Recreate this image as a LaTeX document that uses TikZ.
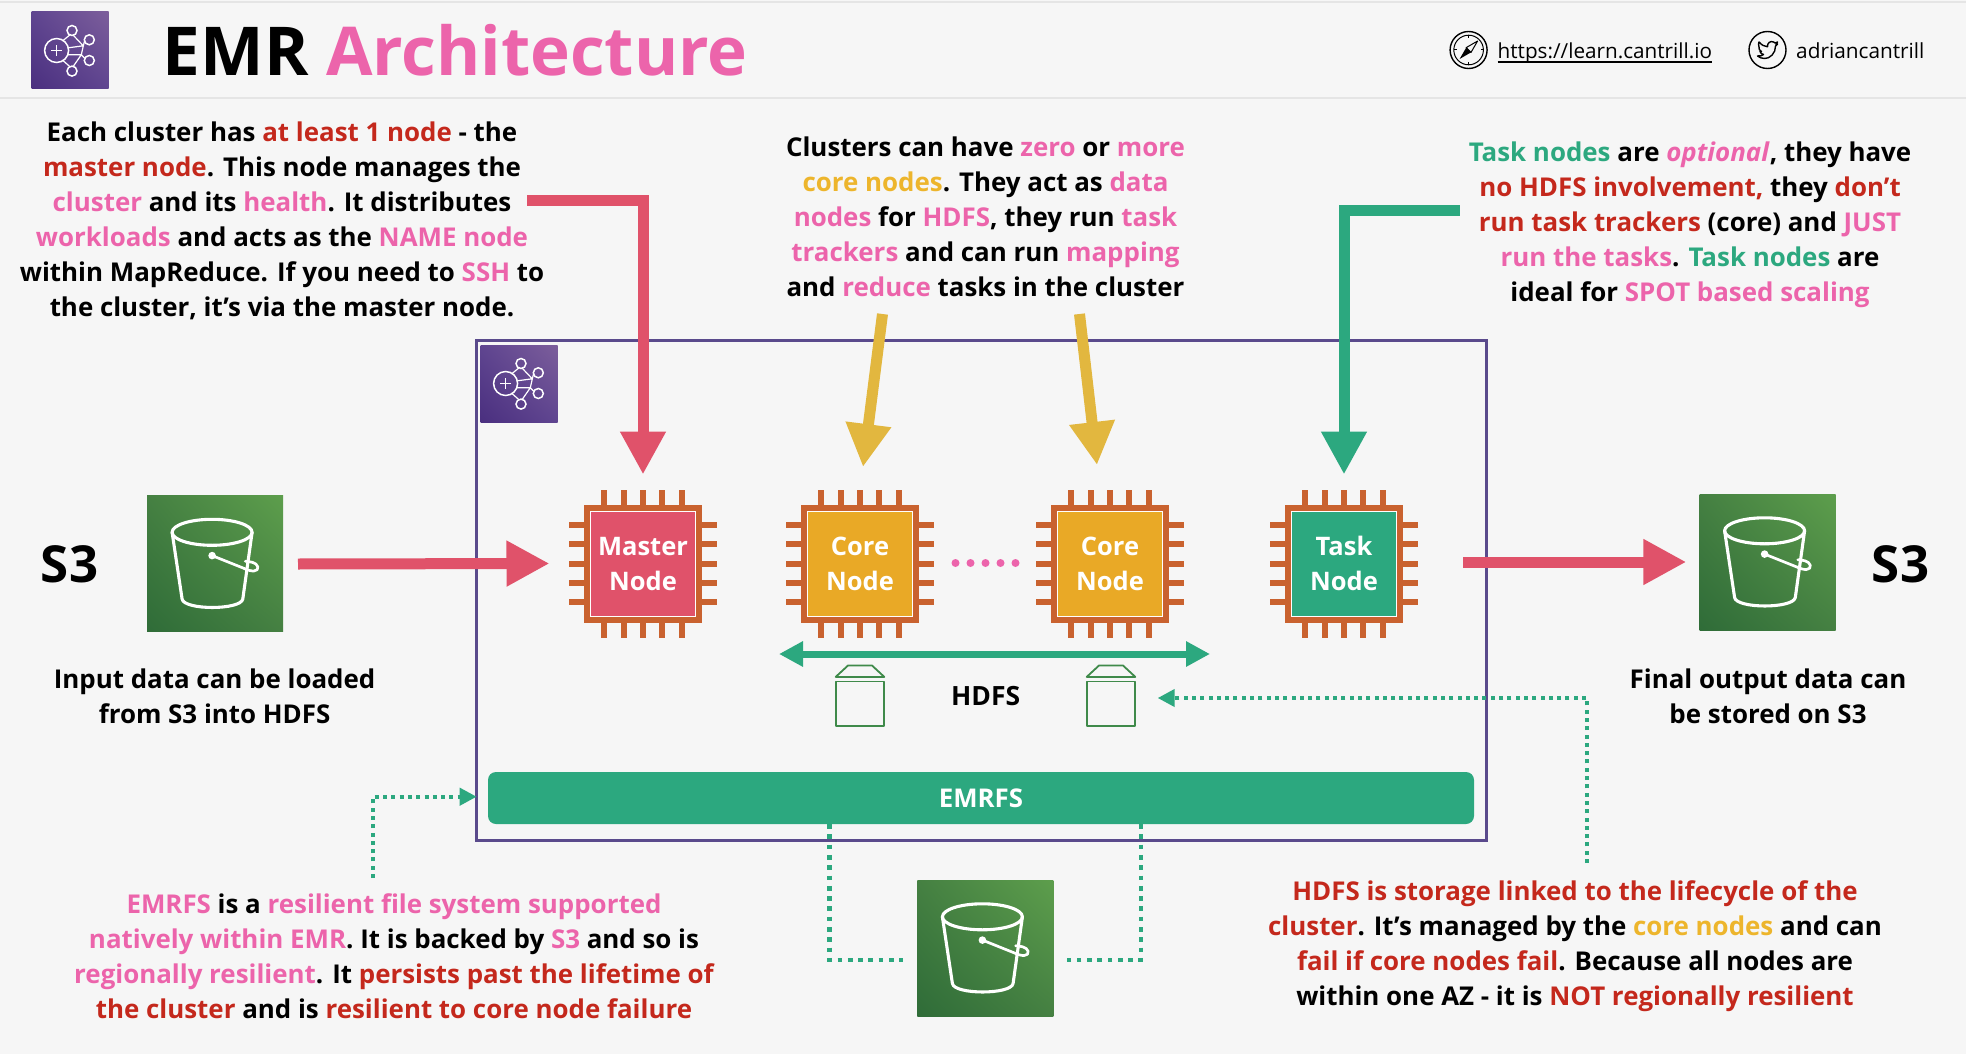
\documentclass[tikz,border=0pt]{standalone}
\usepackage{fontspec}
\setmainfont{Open Sans}
\usetikzlibrary{arrows.meta,calc,shadings}
\definecolor{bgc}{HTML}{F6F6F6}
\definecolor{pk}{HTML}{EC64AB}
\definecolor{rd}{HTML}{C4281C}
\definecolor{yl}{HTML}{EDB52C}
\definecolor{gn}{HTML}{2CA87F}
\definecolor{arrred}{HTML}{E0526A}
\definecolor{arryl}{HTML}{E2B73F}
\definecolor{frame}{HTML}{5A4A8C}
\definecolor{pinc}{HTML}{C9622F}
\definecolor{chred}{HTML}{E0526A}
\definecolor{chyl}{HTML}{E9A926}
\definecolor{cyl}{HTML}{3F8A4A}
\definecolor{sA}{HTML}{2F6C38}
\definecolor{sB}{HTML}{5D9E4C}
\definecolor{sC}{HTML}{458042}
\definecolor{eA}{HTML}{4A2F7F}
\definecolor{eB}{HTML}{7C5E9B}
\definecolor{eC}{HTML}{5F4590}
\newcommand{\Pk}[1]{\textcolor{pk}{#1}}
\newcommand{\Rd}[1]{\textcolor{rd}{#1}}
\newcommand{\Yl}[1]{\textcolor{yl}{#1}}
\newcommand{\Gn}[1]{\textcolor{gn}{#1}}
\tikzset{
  para/.style={align=center,inner sep=0pt,font=\bfseries\fontsize{25.9}{35.1}\selectfont,text=black},
  bigred/.style={draw=arrred,line width=11pt,-{Triangle[length=43pt,width=43pt]}},
  bigyl/.style={draw=arryl,line width=11pt,-{Triangle[length=43pt,width=43pt]}},
  biggn/.style={draw=gn,line width=11pt,-{Triangle[length=43pt,width=43pt]}},
  hdfsarr/.style={draw=gn,line width=7pt,{Triangle[length=24pt,width=24pt]}-{Triangle[length=24pt,width=24pt]}},
  fatdots/.style={draw=gn,line width=4.7pt,dash pattern=on 4.7pt off 5.6pt},
  thindots/.style={draw=gn,line width=4pt,dash pattern=on 4pt off 4.3pt,-{Triangle[length=17pt,width=17pt]}},
  chipcore/.style={draw=white,line width=1pt,minimum width=105pt,minimum height=105pt,inner sep=0pt,align=center,text=white,font=\bfseries\fontsize{25.5}{35}\selectfont},
  s3box/.style={minimum width=136pt,minimum height=136pt,inner sep=0pt,lower left=sA,upper right=sB,upper left=sC,lower right=sC},
  emrbox/.style={minimum width=77pt,minimum height=77pt,inner sep=0pt,lower left=eA,upper right=eB,upper left=eC,lower right=eC},
  cylline/.style={draw=cyl,line width=1.8pt,line join=round},
  bk/.style={draw=white,line width=3.1pt,line join=round,line cap=round},
  em/.style={draw=white,line width=1.5pt},
}
% bucket drawn relative to the top-left corner of its icon
\newcommand{\bucket}[1]{%
  \begin{scope}[shift={(#1.north west)},yscale=1]
    \draw[bk] (65.3,37) ellipse [x radius=40pt,y radius=13pt];
    \draw[bk] (25.3,37) -- (35.3,103.7) .. controls (37,115) and (94,115) .. (96,103.7) -- (105.3,37);
    \fill[white] (65.3,60.3) circle (3.8pt);
    \draw[bk,line width=2.7pt] (65.3,60.3) -- (97,73) .. controls (105,77) and (112,76.5) .. (111,71.5) .. controls (110,67) and (102,66) .. (98.5,66);
  \end{scope}}
\newcommand{\emrglyph}[1]{%
  \begin{scope}[shift={(#1.north west)}]
    \draw[em] (25.3,38.7) circle (12pt);
    \draw[em] (25.3,33.5) -- (25.3,43.9) (20.1,38.7) -- (30.5,38.7);
    \draw[em] (40.7,18.7) circle (5pt) (58,28) circle (5pt) (58,48.7) circle (5pt) (40.7,59.3) circle (5pt);
    \draw[em,line width=1.2pt] (38.5,23.2) -- (32,28.5) (38.5,54.8) -- (32,49) (42,23.5) -- (52,34) -- (53.2,29.5) (42,54.5) -- (50,43) -- (53.5,46.5) (52,34) -- (50,43) (37,36) -- (52,34) (36.5,43) -- (50,43);
  \end{scope}}
\newcommand{\chip}[4]{%
  \fill[pinc] (#2-59,504.5) rectangle (#2+59,622.5);
  \foreach \k in {-2,-1,0,1,2}{
    \fill[pinc] (#2+\k*19.3-3,490) rectangle (#2+\k*19.3+3,505);
    \fill[pinc] (#2+\k*19.3-3,622) rectangle (#2+\k*19.3+3,637.5);
    \fill[pinc] (#2-74,563.5+\k*19.3-3) rectangle (#2-58,563.5+\k*19.3+3);
    \fill[pinc] (#2+58,563.5+\k*19.3-3) rectangle (#2+74,563.5+\k*19.3+3);
  }
  \node[chipcore,fill=#3] (#1) at (#2,563.5) {\rule{0pt}{19pt}#4};}
\newcommand{\cylinder}[1]{%
  \draw[cylline] ($(#1)+(-24.3,-18)$) rectangle ($(#1)+(24.3,26.7)$);
  \draw[cylline] ($(#1)+(-24.3,-22.6)$) -- ($(#1)+(-12,-34)$) -- ($(#1)+(12,-34)$) -- ($(#1)+(24.3,-22.6)$) -- cycle;}
\begin{document}
\begin{tikzpicture}[x=1pt,y=-1pt]
\useasboundingbox (0,0) rectangle (1966,1054);
\fill[bgc] (0,0) rectangle (1966,1054);
\draw[draw=white!90!black,line width=1.5pt] (0,2) -- (1966,2);
\draw[draw=white!90!black,line width=1.5pt] (0,98) -- (1966,98);

% header
\node[emrbox,shade] (hicon) at (70,50.5) {};
\emrglyph{hicon}
\node[anchor=base west,inner sep=0pt,font=\bfseries\fontsize{67.4}{70}\selectfont] (title) at (162.5,76) {EMR \textcolor{pk}{Architecture}};
\node[draw=black,line width=1.4pt,circle,minimum size=37pt,inner sep=0pt] (compass) at (1468.6,50) {};
\draw[line width=1pt] (compass) circle (14.8pt);
\draw[line width=1pt] ($(compass)+(0,-14.8)$) -- ($(compass)+(0,-12)$) ($(compass)+(0,14.8)$) -- ($(compass)+(0,12)$) ($(compass)+(-14.8,0)$) -- ($(compass)+(-12,0)$) ($(compass)+(14.8,0)$) -- ($(compass)+(12,0)$);
\draw[line width=1pt,line join=round] ($(compass)+(9,-9)$) -- ($(compass)+(2.4,2.4)$) -- ($(compass)+(-2.4,-2.4)$) -- cycle;
\fill[black] ($(compass)+(-9,9)$) -- ($(compass)+(2.4,2.4)$) -- ($(compass)+(-2.4,-2.4)$) -- cycle;
\node[anchor=base west,inner sep=0pt,font=\fontsize{20.7}{26}\selectfont] (url) at (1497.5,58.5) {https://learn.cantrill.io};
\draw[line width=1.1pt] ($(url.base west)+(0,3.5)$) -- ($(url.base east)+(0,3.5)$);
\node[draw=black,line width=1.4pt,circle,minimum size=37pt,inner sep=0pt] (twitter) at (1767.5,50) {};
\begin{scope}[shift={(1767.5,50)}]
\draw[line width=1.4pt,line join=round] (10,-6) -- (8,-4) .. controls (8.5,3) and (2,9) .. (-3,8.5) .. controls (-6,8.5) and (-8,7.5) .. (-10,6) .. controls (-7,6.3) and (-5,5.5) .. (-4,4.5) .. controls (-6,4.2) and (-7,3) .. (-7.5,1.5) -- (-6,1.5) .. controls (-8,0.5) and (-9,-1) .. (-8.5,-3) .. controls (-9.3,-5) and (-9,-7) .. (-8.5,-8) .. controls (-6,-5) and (-3,-3.5) .. (0,-3.2) .. controls (-0.5,-7) and (3,-9.5) .. (6,-8) -- (7.5,-7) -- (10,-8) -- (8.5,-5.5) -- cycle;
\end{scope}
\node[anchor=base west,inner sep=0pt,font=\fontsize{20.8}{26}\selectfont] (handle) at (1796,58.5) {adriancantrill};

% cluster frame
\node[draw=frame,line width=3pt,minimum width=1010pt,minimum height=499.5pt,inner sep=0pt] (cluster) at (981.2,590.7) {};
\node[emrbox,shade] (cicon) at (519,383.5) {};
\emrglyph{cicon}

% chips
\chip{master}{643}{chred}{Master\\Node}
\chip{core1}{860}{chyl}{Core\\Node}
\chip{core2}{1110}{chyl}{Core\\Node}
\chip{task}{1344}{gn}{Task\\Node}
\foreach \dx in {0,15,30,45,60}
  \fill[pk] (955.5+\dx,563) circle (4pt);

% S3 icons
\node[s3box,shade] (s3in) at (215,563.5) {};
\bucket{s3in}
\node[s3box,shade] (s3out) at (1767.5,562) {};
\bucket{s3out}
\node[s3box,shade] (s3mid) at (985.3,948) {};
\bucket{s3mid}
\node[inner sep=0pt,font=\bfseries\fontsize{51}{55}\selectfont] (s3l) at (69.5,564) {S3};
\node[inner sep=0pt,font=\bfseries\fontsize{51}{55}\selectfont] (s3r) at (1900.5,564) {S3};

% paragraphs
\node[para] (pmaster) at (282,221) {Each cluster has \Rd{at least 1 node} - the\\\Rd{master node}. This node manages the\\\Pk{cluster} and its \Pk{health}. It distributes\\\Pk{workloads} and acts as the \Pk{NAME node}\\within MapReduce. If you need to \Pk{SSH} to\\the cluster, it’s via the master node.};
\node[para] (pcore) at (985.5,217) {Clusters can have \Pk{zero} or \Pk{more}\\\Yl{core nodes}. They act as \Pk{data}\\\Pk{nodes} for \Pk{HDFS}, they run \Pk{task}\\\Pk{trackers} and can run \Pk{mapping}\\and \Pk{reduce} tasks in the cluster};
\node[para] (ptask) at (1690,224.5) {\Gn{Task nodes} are \Pk{\textit{optional}}, they have\\\Rd{no HDFS involvement,} they \Rd{don’t}\\\Rd{run task trackers} (core) and \Pk{JUST}\\\Pk{run the tasks}. \Gn{Task nodes} are\\ideal for \Pk{SPOT based scaling}};
\node[para] (pin) at (214.6,696) {Input data can be loaded\\from S3 into HDFS};
\node[para] (pout) at (1768,696) {Final output data can\\be stored on S3};
\node[para] (pemrfs) at (394,956.5) {\Pk{EMRFS} is a \Pk{resilient file system supported}\\\Pk{natively within EMR}. It is backed by \Pk{S3} and so is\\\Pk{regionally resilient}. It \Rd{persists past the lifetime of}\\\Rd{the cluster} and is \Rd{resilient to core node failure}};
\node[para] (phdfs) at (1575,946.5) {\Rd{HDFS is storage linked to the lifecycle of the}\\\Rd{cluster}. It’s managed by the \Yl{core nodes} and can\\\Rd{fail if core nodes fail}. Because all nodes are\\within one AZ - it is \Rd{NOT regionally resilient}};

% HDFS group
\coordinate (cylA) at (860,699.5);
\coordinate (cylB) at (1111,699.5);
\cylinder{cylA}
\cylinder{cylB}
\node[inner sep=0pt,font=\bfseries\fontsize{26.5}{30}\selectfont] (hdfs) at (985.7,696) {HDFS};
\node[fill=gn,rounded corners=8pt,minimum width=986pt,minimum height=52pt,inner sep=0pt,text=white,font=\bfseries\fontsize{25.8}{30}\selectfont] (emrfs) at (981,798) {EMRFS};

% connectors
\coordinate (mstart) at (527,200.5);
\coordinate (tstart) at (1459.5,210.5);
\coordinate (yaS) at (882.5,314);
\coordinate (yaE) at (863,467);
\coordinate (ybS) at (1079.5,314);
\coordinate (ybE) at (1097,465);
\coordinate (ha) at (779,654);
\coordinate (hb) at (1210,654);
\coordinate (inS) at (298,564);
\coordinate (outS) at (1463,562);
\draw[bigred] (mstart) -| ([yshift=36pt]master.north);
\draw[biggn] (tstart) -| ([yshift=36pt]task.north);
\draw[bigyl] (yaS) -- (yaE);
\draw[bigyl] (ybS) -- (ybE);
\draw[bigred] (inS) -- ([xshift=-40.5pt]master.west);
\draw[bigred] (outS) -- ([xshift=-13pt]s3out.west);
\draw[hdfsarr] (ha) -- (hb);
\coordinate (fa) at (829.3,824);
\coordinate (fb) at (903,960);
\coordinate (fc) at (1141,824);
\coordinate (fd) at (1066.7,960);
\draw[fatdots] (fa) |- (fb);
\draw[fatdots] (fc) |- (fd);
\coordinate (da) at (373,878);
\coordinate (db) at (476.7,796.7);
\coordinate (dc) at (1587,863);
\coordinate (dd) at (1157.7,698);
\draw[thindots] (da) |- (db);
\draw[thindots] (dc) |- (dd);
\end{tikzpicture}
\end{document}
